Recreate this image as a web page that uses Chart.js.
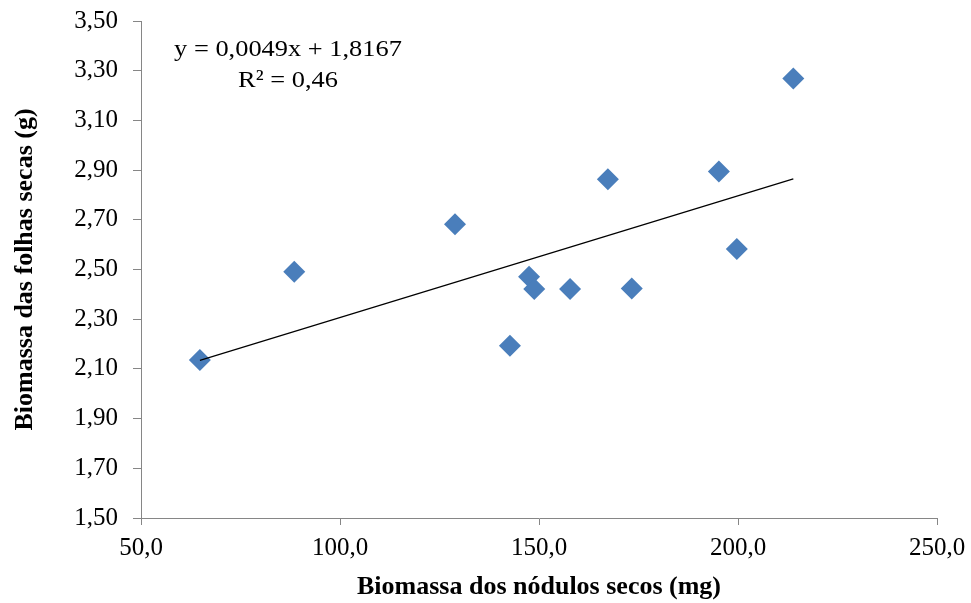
<!DOCTYPE html>
<html>
<head>
<meta charset="utf-8">
<script src="https://cdn.jsdelivr.net/npm/chart.js@4"></script>
<style>
  html, body { margin: 0; padding: 0; background: #fff; }
  #wrap { width: 971px; height: 603px; }
</style>
</head>
<body>
<div id="wrap"><canvas id="biomassaChart" width="971" height="603"></canvas></div>
<script>
// --- dados ---
const nodulos = [64.8, 88.5, 128.9, 142.7, 147.5, 148.8, 157.8, 167.3, 173.3, 195.2, 199.7, 213.9];
const folhas  = [2.136, 2.491, 2.682, 2.193, 2.471, 2.422, 2.422, 2.863, 2.424, 2.894, 2.582, 3.269];
const xTicks = [50, 100, 150, 200, 250];
const yTicks = [1.5, 1.7, 1.9, 2.1, 2.3, 2.5, 2.7, 2.9, 3.1, 3.3, 3.5];
const slope = 0.0049;
const intercept = 1.8167;
const equacao = ['y = 0,0049x + 1,8167', 'R² = 0,46'];

const pontos = nodulos.map((x, i) => ({ x: x, y: folhas[i] }));
const xMin = Math.min(...nodulos), xMax = Math.max(...nodulos);
const tendencia = [xMin, xMax].map(x => ({ x: x, y: slope * x + intercept }));

const serif = "'Liberation Serif', 'Times New Roman', serif";
const axisColor = '#868686';

// texto da equação da linha de tendência
const equationPlugin = {
    id: 'equationLabel',
    afterDraw(chart) {
        const ctx = chart.ctx;
        ctx.save();
        ctx.fillStyle = '#000';
        ctx.font = '24px ' + serif;
        ctx.textAlign = 'center';
        ctx.textBaseline = 'middle';
        ctx.translate(288, 0);
        ctx.scale(1.1, 1);
        ctx.fillText(equacao[0], 0, 50);
        ctx.fillText(equacao[1], 0, 81);
        ctx.restore();
    }
};

new Chart(document.getElementById('biomassaChart').getContext('2d'), {
    type: 'scatter',
    data: {
        datasets: [
            {
                data: pontos,
                pointStyle: 'rectRot',
                pointRadius: 11,
                pointHoverRadius: 11,
                backgroundColor: '#4a7ebb',
                borderColor: '#4a7ebb',
                borderWidth: 0,
                order: 1
            },
            {
                type: 'line',
                data: tendencia,
                borderColor: '#000',
                borderWidth: 1.2,
                pointRadius: 0,
                fill: false,
                order: 0
            }
        ]
    },
    options: {
        responsive: false,
        animation: false,
        layout: { padding: { left: 0, right: 34, top: 21, bottom: 0 } },
        plugins: {
            legend: { display: false },
            tooltip: { enabled: false }
        },
        scales: {
            x: {
                type: 'linear',
                min: xTicks[0],
                max: xTicks[xTicks.length - 1],
                afterFit: scale => {
                    scale.height = 85;
                    scale.paddingLeft = 0;
                    scale.paddingRight = 0;
                },
                afterBuildTicks: scale => { scale.ticks = xTicks.map(v => ({ value: v })); },
                grid: { drawOnChartArea: false, drawTicks: true, tickLength: 7, color: axisColor },
                border: { color: axisColor, width: 1 },
                ticks: {
                    color: '#000',
                    padding: 8,
                    font: { family: serif, size: 25 },
                    callback: v => v.toFixed(1).replace('.', ',')
                },
                title: {
                    display: true,
                    text: 'Biomassa dos nódulos secos (mg)',
                    color: '#000',
                    font: { family: serif, size: 26, weight: 'bold' },
                    padding: { top: 0, bottom: 0 }
                }
            },
            y: {
                type: 'linear',
                min: yTicks[0],
                max: yTicks[yTicks.length - 1],
                afterFit: scale => {
                    scale.width = 141;
                    scale.paddingTop = 0;
                    scale.paddingBottom = 0;
                },
                afterBuildTicks: scale => { scale.ticks = yTicks.map(v => ({ value: v })); },
                grid: { drawOnChartArea: false, drawTicks: true, tickLength: 8, color: axisColor },
                border: { color: axisColor, width: 1 },
                ticks: {
                    color: '#000',
                    padding: 15,
                    font: { family: serif, size: 25 },
                    callback: v => v.toFixed(2).replace('.', ',')
                },
                title: {
                    display: true,
                    text: 'Biomassa das folhas secas (g)',
                    color: '#000',
                    font: { family: serif, size: 26, weight: 'bold' },
                    padding: { top: 10, bottom: 0 }
                }
            }
        }
    },
    plugins: [equationPlugin]
});
</script>
</body>
</html>
